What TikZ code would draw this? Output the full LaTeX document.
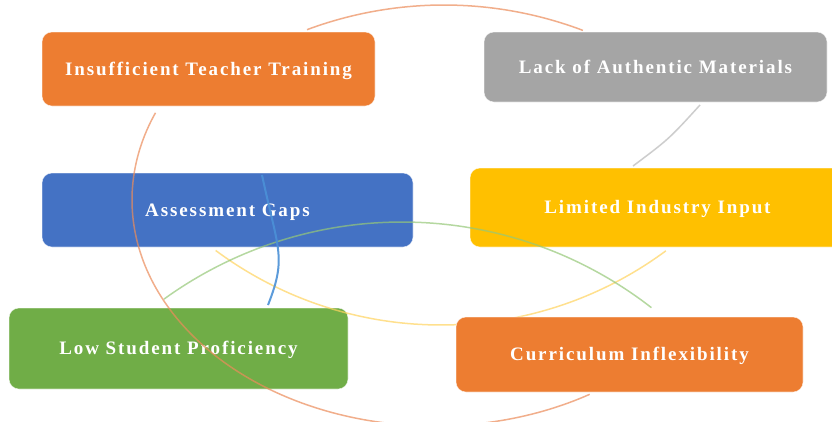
\documentclass[tikz,border=0pt]{standalone}
\usepackage{fontspec}
\newfontfamily\boxfont{Liberation Serif}[LetterSpace=10]
\definecolor{cOrange}{RGB}{237,125,49}
\definecolor{cGray}{RGB}{165,165,165}
\definecolor{cBlue}{RGB}{68,114,196}
\definecolor{cYellow}{RGB}{255,192,0}
\definecolor{cGreen}{RGB}{112,173,71}
\definecolor{aOrange}{RGB}{236,140,90}
\definecolor{aGray}{RGB}{185,185,185}
\definecolor{aYellow}{RGB}{255,212,95}
\definecolor{aGreen}{RGB}{150,200,120}
\definecolor{aBlue}{RGB}{75,145,215}
\begin{document}
\begin{tikzpicture}[x=1pt,y=-1pt,
  box/.style={rounded corners=10pt, fill=#1, draw=white, draw opacity=0.6,
    line width=0.6pt, text=white,
    font=\boxfont\bfseries\fontsize{19}{21}\selectfont,
    text height=12.5pt, text depth=0pt, inner sep=0pt},
  link/.style={line width=1.5pt, draw opacity=0.7}
]
\clip (0,0) rectangle (832,421);
\fill[white] (0,0) rectangle (832,421);

% boxes (behind the arcs)
\node[box=cOrange, minimum width=333pt, minimum height=74pt] (itt) at (208.5,69) {Insufficient Teacher Training};
\node[box=cGray, minimum width=343pt, minimum height=70pt] (lam) at (655.5,67) {Lack of Authentic Materials};
\node[box=cBlue, minimum width=371pt, minimum height=74pt] (ag) at (227.5,210) {Assessment Gaps};
\node[box=cYellow, minimum width=375pt, minimum height=79pt] (lii) at (657.5,207.5) {Limited Industry Input};
\node[box=cGreen, minimum width=339pt, minimum height=81pt] (lsp) at (178.5,348.5) {Low Student Proficiency};

% arcs
\draw[link, draw=aOrange] plot[domain=-110.4:-69.3, samples=50] ({444+393*cos(\x)}, {398+393*sin(\x)});
\draw[link, draw=aGray] (700,105) .. controls (669,139) .. (633,166);
\draw[link, draw=aYellow] plot[domain=53.5:126.6, samples=80] ({441+378*cos(\x)}, {-53+378*sin(\x)});
\draw[link, draw=aGreen] plot[domain=-125.9:-52.1, samples=80] ({402+406*cos(\x)}, {628+406*sin(\x)});
\draw[link, draw=aOrange] plot[domain=59.3:202.7, samples=120] ({435+303*cos(\x)}, {200+226*sin(\x)});
\draw[line width=2pt, draw=aBlue, draw opacity=0.9] (262,175) .. controls (278,250) and (287,257) .. (268,305);

% box on top of the arcs
\node[box=cOrange, minimum width=347pt, minimum height=75pt] (ci) at (629.5,354.5) {Curriculum Inflexibility};
\end{tikzpicture}
\end{document}
